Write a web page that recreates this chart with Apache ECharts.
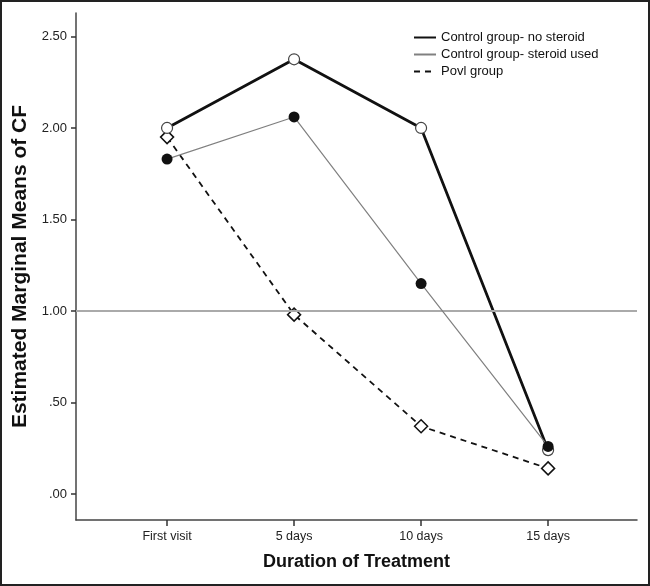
<!DOCTYPE html>
<html>
<head>
<meta charset="utf-8">
<script src="https://cdn.jsdelivr.net/npm/echarts@6/dist/echarts.min.js"></script>
<style>
  html, body { margin: 0; padding: 0; background: #fff; }
  #chart { width: 650px; height: 586px; }
</style>
</head>
<body>
<div id="chart"></div>
<script>
  // time points on the x axis
  const categories = ['First visit', '5 days', '10 days', '15 days'];
  const yTicks = [0, 0.5, 1, 1.5, 2, 2.5];
  // estimated marginal means of CF
  const noSteroid = [2.00, 2.375, 2.00, 0.24];
  const steroidUsed = [1.83, 2.06, 1.15, 0.26];
  const povlGroup = [1.95, 0.98, 0.37, 0.14];
  const refLine = 1.0;

  const font = 'Arial, "Liberation Sans", sans-serif';
  const toPairs = vals => vals.map((v, i) => [i, v]);

  const chart = echarts.init(document.getElementById('chart'));
  chart.setOption({
    backgroundColor: '#fff',
    animation: false,
    graphic: [{
      type: 'rect',
      shape: { x: 1, y: 1, width: 648, height: 584 },
      style: { fill: 'none', stroke: '#222', lineWidth: 2 },
      silent: true
    }],
    legend: {
      left: 408,
      top: 26,
      orient: 'vertical',
      itemWidth: 22,
      itemHeight: 12,
      itemGap: 4,
      textStyle: { fontFamily: font, fontSize: 13, color: '#111' },
      itemStyle: { color: 'transparent', borderColor: 'transparent', borderWidth: 0 },
      data: ['Control group- no steroid', 'Control group- steroid used', 'Povl group']
    },
    grid: { left: 76, top: 13, right: 13, bottom: 66 },
    xAxis: {
      type: 'value',
      min: -0.717,
      max: 3.70,
      name: 'Duration of Treatment',
      nameLocation: 'middle',
      nameGap: 33,
      nameTextStyle: { fontFamily: font, fontSize: 18, fontWeight: 'bold', color: '#111' },
      axisLine: { onZero: false, lineStyle: { color: '#444', width: 1.5 } },
      axisTick: { customValues: [0, 1, 2, 3], length: 6, lineStyle: { color: '#333', width: 1.5 } },
      axisLabel: {
        customValues: [0, 1, 2, 3],
        formatter: v => categories[Math.round(v)],
        fontFamily: font, fontSize: 12.5, color: '#222', margin: 10
      },
      splitLine: { show: false }
    },
    yAxis: {
      type: 'value',
      min: -0.142,
      max: 2.628,
      name: 'Estimated Marginal Means of CF',
      nameLocation: 'middle',
      nameGap: 45,
      nameTextStyle: { fontFamily: font, fontSize: 21, fontWeight: 'bold', color: '#111' },
      axisLine: { onZero: false, lineStyle: { color: '#444', width: 1.5 } },
      axisTick: { customValues: yTicks, length: 5, lineStyle: { color: '#333', width: 1.5 } },
      axisLabel: {
        customValues: yTicks,
        formatter: v => v.toFixed(2).replace(/^0/, ''),
        fontFamily: font, fontSize: 13, color: '#222', margin: 9
      },
      splitLine: { show: false }
    },
    series: [
      {
        name: 'Povl group',
        type: 'line',
        data: toPairs(povlGroup),
        symbol: 'diamond',
        symbolSize: 13,
        itemStyle: { color: '#fff', borderColor: '#111', borderWidth: 1.5 },
        lineStyle: { color: '#111', width: 1.8, type: [6, 5] },
        markLine: {
          silent: true,
          symbol: 'none',
          label: { show: false },
          lineStyle: { color: '#aaa', width: 2, type: 'solid' },
          data: [{ yAxis: refLine }]
        },
        z: 3
      },
      {
        name: 'Control group- no steroid',
        type: 'line',
        data: toPairs(noSteroid),
        symbol: 'circle',
        symbolSize: 11,
        itemStyle: { color: '#fff', borderColor: '#444', borderWidth: 1.2 },
        lineStyle: { color: '#111', width: 2.8 },
        z: 4
      },
      {
        name: 'Control group- steroid used',
        type: 'line',
        data: toPairs(steroidUsed),
        symbol: 'circle',
        symbolSize: 11,
        itemStyle: { color: '#111' },
        lineStyle: { color: '#808080', width: 1.2 },
        z: 5
      }
    ]
  });
</script>
</body>
</html>
